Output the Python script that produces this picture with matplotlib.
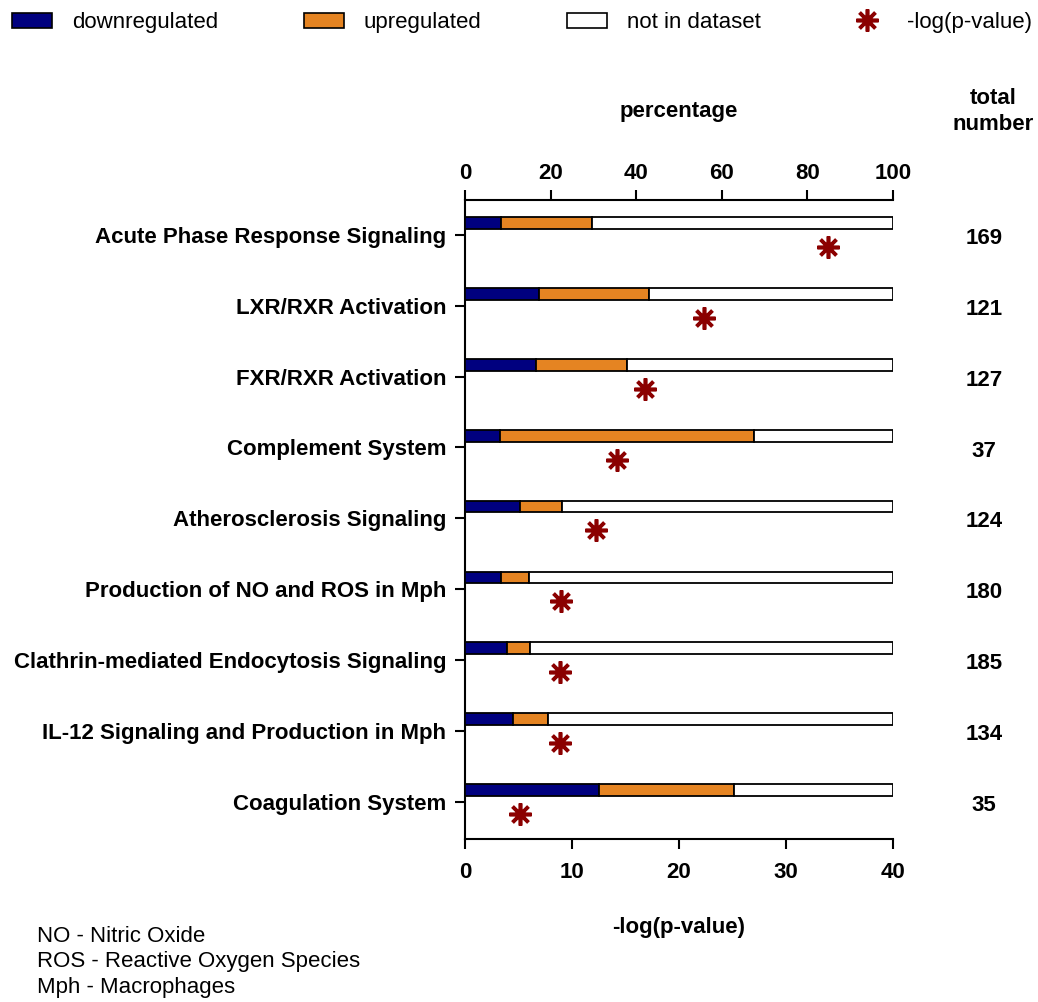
import matplotlib.pyplot as plt
from matplotlib.patches import Patch
from matplotlib.lines import Line2D
import numpy as np

plt.rcParams["font.family"] = ["Liberation Sans", "DejaVu Sans"]

pathways = [
    "Acute Phase Response Signaling",
    "LXR/RXR Activation",
    "FXR/RXR Activation",
    "Complement System",
    "Atherosclerosis Signaling",
    "Production of NO and ROS in Mph",
    "Clathrin-mediated Endocytosis Signaling",
    "IL-12 Signaling and Production in Mph",
    "Coagulation System",
]
# percentages of genes in the pathway
down_pct = [8.3, 17.4, 16.5, 8.1, 12.9, 8.3, 9.7, 11.2, 31.4]
up_pct = [21.3, 25.6, 21.3, 59.5, 9.7, 6.7, 5.4, 8.2, 31.4]
neg_log_p = [33.9, 22.3, 16.8, 14.2, 12.2, 9.0, 8.9, 8.9, 5.1]
total_number = [169, 121, 127, 37, 124, 180, 185, 134, 35]

BLUE = "#00007f"
ORANGE = "#e58422"
RED = "#8b0000"

fig = plt.figure(figsize=(10.38, 10.02), dpi=100)
ax = fig.add_axes([0.448, 0.1627, 0.4123, 0.6377])
ax_top = ax.twiny()

y = np.arange(len(pathways))
bar_y = y - 0.165
not_in = [100 - d - u for d, u in zip(down_pct, up_pct)]
left_up = down_pct
left_not = [d + u for d, u in zip(down_pct, up_pct)]

bar_kw = dict(height=0.165, edgecolor="black", linewidth=1.3)
ax_top.barh(bar_y, down_pct, color=BLUE, **bar_kw)
ax_top.barh(bar_y, up_pct, left=left_up, color=ORANGE, **bar_kw)
ax_top.barh(bar_y, not_in, left=left_not, color="white", **bar_kw)

ax.plot(neg_log_p, y + 0.17, linestyle="none", marker=(8, 2, 0),
        markersize=16, markeredgewidth=2.6, color=RED, markeredgecolor=RED)

ax.set_xlim(0, 40)
ax_top.set_xlim(0, 100)
ax.set_ylim(len(pathways) - 1 + 0.527, -0.494)

ax.set_yticks(y)
ax.set_yticklabels(pathways, fontsize=16, fontweight="bold")
ax.set_xticks([0, 10, 20, 30, 40])
ax_top.set_xticks([0, 20, 40, 60, 80, 100])

for a in (ax, ax_top):
    a.spines["right"].set_visible(False)
    for s in a.spines.values():
        s.set_linewidth(1.5)
    a.tick_params(length=7, width=1.5, labelsize=16)
    for lab in a.get_xticklabels():
        lab.set_fontweight("bold")
ax.tick_params(axis="y", pad=6.5)
ax.tick_params(axis="x", pad=9.8)
ax_top.tick_params(axis="x", pad=4.6)
ax.spines["top"].set_visible(False)
ax_top.spines["bottom"].set_visible(False)
ax_top.spines["left"].set_visible(False)

ax.set_xlabel("-log(p-value)", fontsize=16, fontweight="bold", labelpad=24)
ax_top.set_xlabel("percentage", fontsize=16, fontweight="bold", labelpad=33)

# total number column
for yi, n in zip(y, total_number):
    ax.text(1.213, yi + 0.05, str(n), transform=ax.get_yaxis_transform(),
            ha="center", va="center", fontsize=16, fontweight="bold")
fig.text(0.957, 0.889, "total\nnumber", ha="center", va="center",
         fontsize=16, fontweight="bold", linespacing=1.3)

handles = [
    Patch(facecolor=BLUE, edgecolor="black", linewidth=1.2),
    Patch(facecolor=ORANGE, edgecolor="black", linewidth=1.2),
    Patch(facecolor="white", edgecolor="black", linewidth=1.2),
    Line2D([], [], linestyle="none", marker=(8, 2, 0), markersize=16,
           markeredgewidth=2.6, color=RED),
]
fig.legend(handles, ["downregulated", "upregulated", "not in dataset", "-log(p-value)"],
           loc="upper left", bbox_to_anchor=(0.0, 1.0), ncol=4, frameon=False,
           fontsize=16, handlelength=1.8, handleheight=0.7, handletextpad=0.9,
           columnspacing=3.85, borderaxespad=0.15)

fig.text(0.036, 0.040, "NO - Nitric Oxide\nROS - Reactive Oxygen Species\nMph - Macrophages",
         ha="left", va="center", fontsize=16, linespacing=1.28)

fig.savefig("out.png", dpi=100)
